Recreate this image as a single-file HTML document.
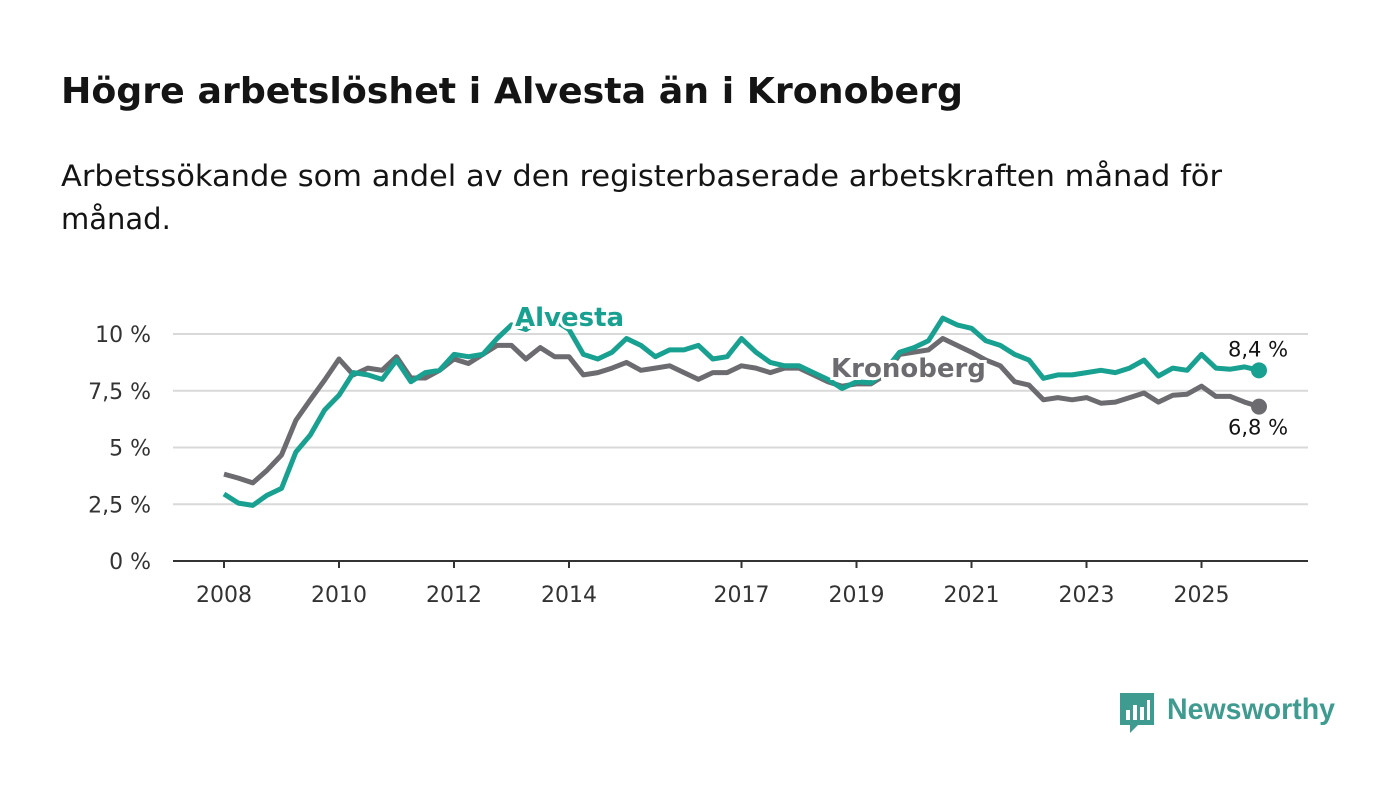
<!DOCTYPE html>
<html><head><meta charset="utf-8">
<style>
body{margin:0;background:#fff;width:1400px;height:794px;overflow:hidden;font-family:"Liberation Sans",sans-serif;}
svg text{font-family:"DejaVu Sans","Liberation Sans",sans-serif;}
svg text.logo{font-family:"Liberation Sans",sans-serif;}
</style></head>
<body>
<svg id="chart" width="1400" height="794" xmlns="http://www.w3.org/2000/svg">
<text x="61" y="103" font-size="36" font-weight="bold" fill="#141414" textLength="902" lengthAdjust="spacingAndGlyphs">Högre arbetslöshet i Alvesta än i Kronoberg</text>
<text x="61" y="186" font-size="29" fill="#141414" textLength="1161" lengthAdjust="spacingAndGlyphs">Arbetssökande som andel av den registerbaserade arbetskraften månad för</text>
<text x="61" y="229" font-size="29" fill="#141414">månad.</text>
<g id="grid"></g><g id="xaxis"></g><g id="lines"></g><g id="labels"></g>
<g>
<path d="M1120 693 h34 v32 h-16 l-8 8 v-8 h-10 z" fill="#3f9b8f"/>
<rect x="1126" y="710" width="4" height="10" fill="#fff"/><rect x="1133" y="705" width="4" height="15" fill="#fff"/><rect x="1140" y="707" width="4" height="13" fill="#fff"/><rect x="1147" y="700" width="3" height="20" fill="#fff"/>
<text class="logo" x="1167" y="719" font-size="30" font-weight="bold" fill="#3f9b8f" textLength="168" lengthAdjust="spacingAndGlyphs">Newsworthy</text>
</g>
</svg>
<script>
const years=[2008,2010,2012,2014,2017,2019,2021,2023,2025];
const yTicks=[0,2.5,5,7.5,10];
const yTickLabels=["0 %","2,5 %","5 %","7,5 %","10 %"];
const startYear=2008, step=0.25;
const kronoberg=[3.83,3.65,3.44,4.0,4.67,6.2,7.1,7.97,8.9,8.2,8.5,8.4,9.0,8.06,8.06,8.4,8.9,8.7,9.1,9.5,9.5,8.9,9.4,9.0,9.0,8.2,8.3,8.5,8.75,8.4,8.5,8.6,8.3,8.0,8.3,8.3,8.6,8.5,8.3,8.5,8.5,8.2,7.9,7.7,7.8,7.8,8.2,9.1,9.2,9.3,9.8,9.5,9.2,8.85,8.6,7.9,7.75,7.1,7.2,7.1,7.2,6.95,7.0,7.2,7.4,7.0,7.3,7.35,7.7,7.25,7.25,7.0,6.8];
const alvesta=[2.95,2.55,2.45,2.9,3.2,4.8,5.55,6.65,7.3,8.3,8.2,8.0,8.85,7.9,8.3,8.4,9.1,9.0,9.1,9.8,10.4,10.2,10.6,10.6,10.2,9.1,8.9,9.2,9.8,9.5,9.0,9.3,9.3,9.5,8.9,9.0,9.8,9.2,8.75,8.6,8.6,8.3,8.0,7.6,7.9,7.85,8.4,9.2,9.4,9.7,10.7,10.4,10.25,9.7,9.5,9.1,8.85,8.05,8.2,8.2,8.3,8.4,8.3,8.5,8.85,8.15,8.5,8.4,9.1,8.5,8.45,8.55,8.4];
const X=t=>224+(t-2008)*57.5;
const Y=v=>561-v*22.7;
const NS="http://www.w3.org/2000/svg";
function mk(tag,attrs,parent){const e=document.createElementNS(NS,tag);for(const k in attrs)e.setAttribute(k,attrs[k]);parent.appendChild(e);return e;}
const grid=document.getElementById('grid'),xa=document.getElementById('xaxis'),lines=document.getElementById('lines'),labels=document.getElementById('labels');
yTicks.forEach((v,i)=>{
 const l=mk('line',{x1:173,x2:1308,y1:Y(v),y2:Y(v),stroke:v===0?'#333':'#d9d9d9','stroke-width':2},grid);
 
 
 const t=mk('text',{x:151,y:Y(v)+8,'text-anchor':'end','font-size':22,fill:'#333'},grid);
 t.textContent=yTickLabels[i];
 
 
});
years.forEach(y=>{
 const tk=mk('line',{x1:X(y),x2:X(y),y1:561,y2:568,stroke:'#333','stroke-width':2},xa);
 
 
 const t=mk('text',{x:X(y),y:602,'text-anchor':'middle','font-size':22,fill:'#333'},xa);
 t.textContent=y;
 
 
});
function series(arr,color,name){
 const d=arr.map((v,i)=>(i?'L':'M')+X(startYear+i*step).toFixed(1)+' '+Y(v).toFixed(1)).join(' ');
 const p=mk('path',{d:d,fill:'none',stroke:color,'stroke-width':5,'stroke-linejoin':'round'},lines);
 
 
 const n=arr.length-1;
 const c=mk('circle',{cx:X(startYear+n*step),cy:Y(arr[n]),r:8,fill:color},lines);
 
 
 return [X(startYear+n*step),Y(arr[n]),arr[n]];
}
const kEnd=series(kronoberg,'#6b6b70','kronoberg');
const aEnd=series(alvesta,'#18a091','alvesta');
function lbl(x,y,txt,color,size,bold,name){
 const t=mk('text',{x:x,y:y,'font-size':size,'font-weight':bold?'bold':'normal',fill:color,stroke:'#fff','stroke-width':bold?6:0,'paint-order':'stroke'},labels);
 t.textContent=txt;
 
 
 return t;
}
lbl(515,326,'Alvesta','#18a091',26,true,'alvesta-label');
lbl(831,377,'Kronoberg','#6b6b70',26,true,'kronoberg-label');
const fmt=v=>v.toFixed(1).replace('.',',')+' %';
lbl(aEnd[0]-31,aEnd[1]-14,fmt(aEnd[2]),'#141414',21,false,'alvesta-end-value');
lbl(kEnd[0]-31,kEnd[1]+28,fmt(kEnd[2]),'#141414',21,false,'kronoberg-end-value');
</script>
</body></html>
